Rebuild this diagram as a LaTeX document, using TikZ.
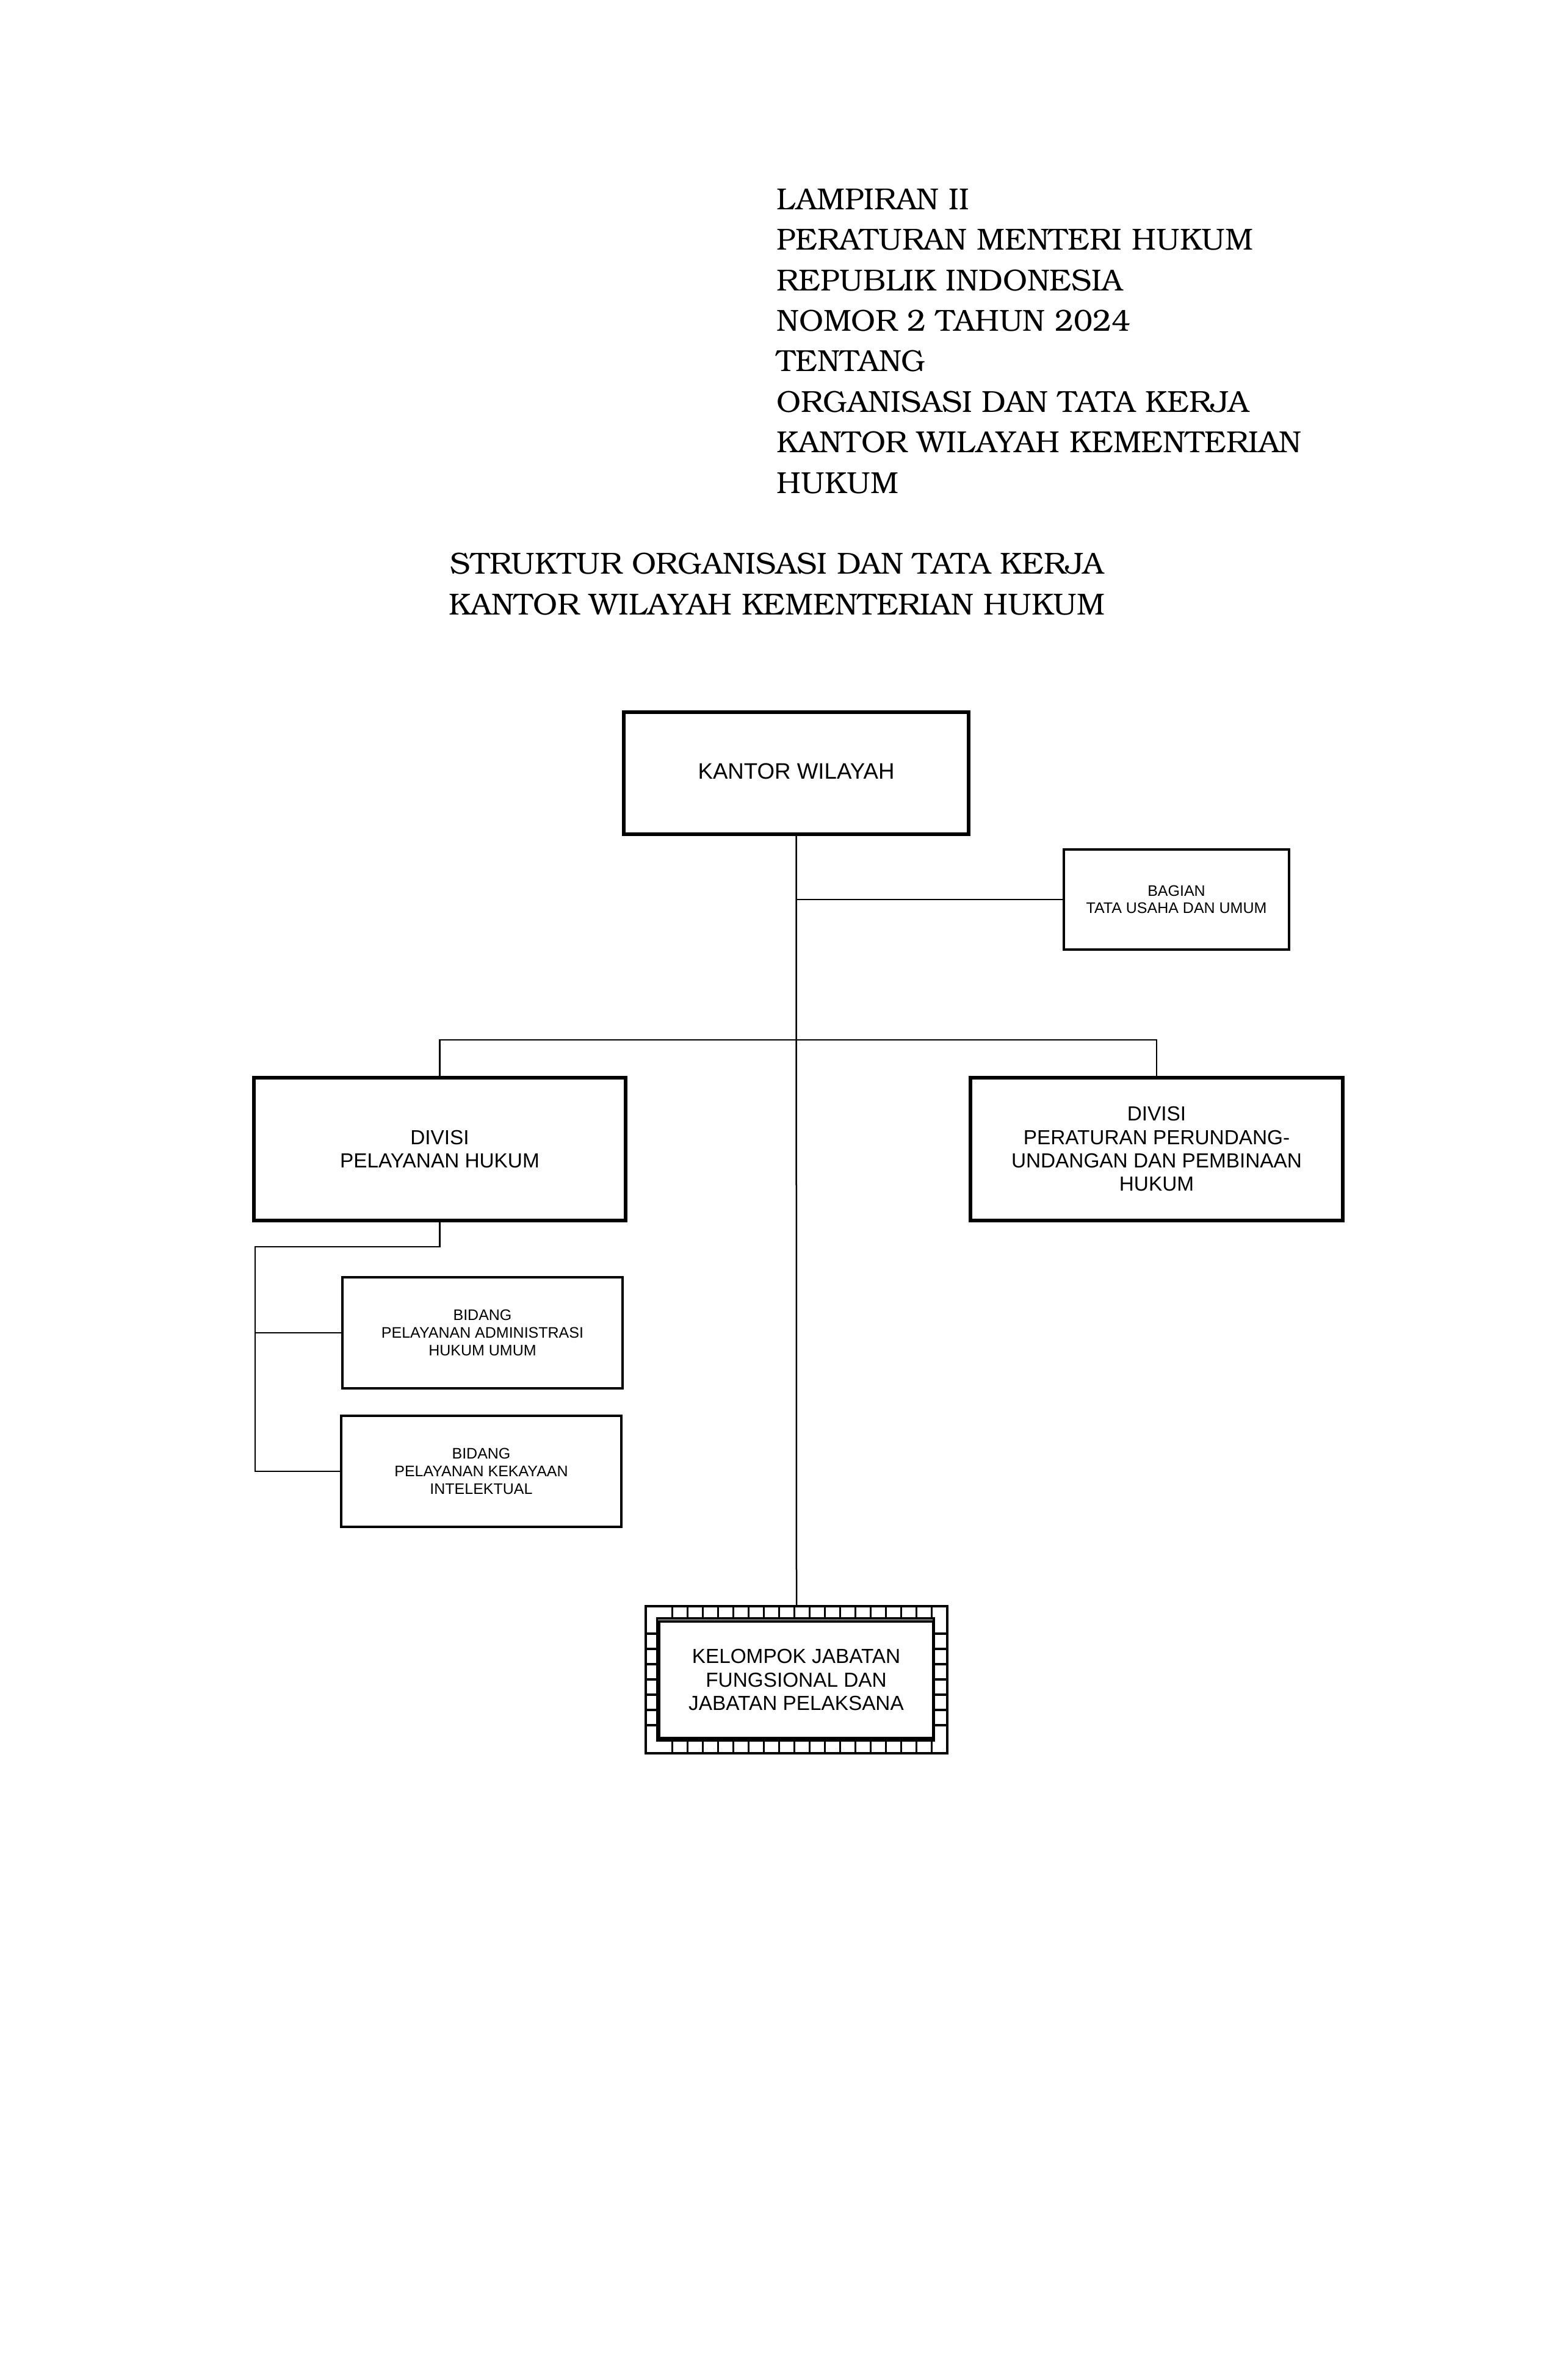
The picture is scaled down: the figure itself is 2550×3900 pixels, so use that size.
\documentclass[tikz,border=0pt]{standalone}
\usepackage{fontspec}
\setmainfont{Liberation Sans}
\newfontfamily\bonum{texgyrebonum-regular.otf}
\begin{document}
\begin{tikzpicture}[x=0.24pt,y=-0.24pt,
  hdr/.style={anchor=base west,inner sep=0,font=\bonum\fontsize{11.95}{14}\selectfont},
  ttl/.style={anchor=base,inner sep=0,font=\bonum\fontsize{11.95}{14}\selectfont},
  bigbox/.style={draw,line width=1.45pt,inner sep=0,align=center,font=\fontsize{8}{9.2}\selectfont},
  smallbox/.style={draw,line width=0.85pt,inner sep=0,align=center,font=\fontsize{6}{6.9}\selectfont},
  conn/.style={line width=0.6pt},
  gridline/.style={line width=0.8pt}]
\useasboundingbox (0,0) rectangle (2550,3900);
\fill[white] (0,0) rectangle (2550,3900);

% header
\node[hdr] (h1) at (1272,343.3) {LAMPIRAN II};
\node[hdr] (h2) at (1272,409.7) {PERATURAN MENTERI HUKUM};
\node[hdr] (h3) at (1272,476.1) {REPUBLIK INDONESIA};
\node[hdr] (h4) at (1272,542.5) {NOMOR 2 TAHUN 2024};
\node[hdr] (h5) at (1272,608.9) {TENTANG};
\node[hdr] (h6) at (1272,675.3) {ORGANISASI DAN TATA KERJA};
\node[hdr] (h7) at (1272,741.7) {KANTOR WILAYAH KEMENTERIAN};
\node[hdr] (h8) at (1272,808.1) {HUKUM};

\node[ttl] (t1) at (1273,941) {STRUKTUR ORGANISASI DAN TATA KERJA};
\node[ttl] (t2) at (1273,1007) {KANTOR WILAYAH KEMENTERIAN HUKUM};

% boxes
\node[bigbox,minimum width={565*0.24pt},minimum height={200*0.24pt},font=\fontsize{8.8}{10}\selectfont] (kw) at (1304.5,1267) {\raisebox{1.5pt}{KANTOR WILAYAH}};
\node[smallbox,minimum width={369*0.24pt},minimum height={164*0.24pt}] (bag) at (1927.5,1474) {BAGIAN\\TATA USAHA DAN UMUM};
\node[bigbox,minimum width={609*0.24pt},minimum height={234*0.24pt}] (dph) at (720.5,1883) {DIVISI\\PELAYANAN HUKUM};
\node[bigbox,minimum width={610*0.24pt},minimum height={234*0.24pt}] (dpp) at (1895,1883) {DIVISI\\PERATURAN PERUNDANG-\\UNDANGAN DAN PEMBINAAN\\HUKUM};
\node[smallbox,minimum width={459*0.24pt},minimum height={182*0.24pt}] (b1) at (790.5,2184) {BIDANG\\PELAYANAN ADMINISTRASI\\HUKUM UMUM};
\node[smallbox,minimum width={459*0.24pt},minimum height={182*0.24pt}] (b2) at (788.5,2411) {BIDANG\\PELAYANAN KEKAYAAN\\INTELEKTUAL};

% kelompok frame
\node[draw,gridline,inner sep=0,minimum width={494*0.24pt},minimum height={241*0.24pt}] (kjf) at (1305,2752.5) {};
\node[draw,gridline,inner sep=0,minimum width={453.3*0.24pt},minimum height={200*0.24pt}] (band) at (1303.35,2752) {};
\foreach \k in {1,...,18} {
  \draw[gridline] ({1076.7+25*\k},2632) -- ({1076.7+25*\k},2652);
  \draw[gridline] ({1076.7+25*\k},2852) -- ({1076.7+25*\k},2873);
}
\foreach \k in {1,...,7} {
  \draw[gridline] (1058,{2652+25*\k}) -- (1076.7,{2652+25*\k});
  \draw[gridline] (1530,{2652+25*\k}) -- (1552,{2652+25*\k});
}
\node[draw,fill=white,line width=0.85pt,inner sep=0,minimum width={449*0.24pt},minimum height={191*0.24pt},align=center,font=\fontsize{8}{9.2}\selectfont] (kjfin) at (1304.5,2752.5) {KELOMPOK JABATAN\\FUNGSIONAL DAN\\JABATAN PELAKSANA};

% connectors
\draw[conn] (kw.south) -- (kjf.north);
\draw[conn] (kw.south |- bag.west) -- (bag.west);
\coordinate (bus) at (1304.5,1704);
\draw[conn] (dph.north) |- (bus) -| (dpp.north);
\coordinate (bl) at (418,2043);
\draw[conn] (dph.south) |- (bl) |- (b2.west);
\draw[conn] (bl |- b1.west) -- (b1.west);
\end{tikzpicture}
\end{document}
